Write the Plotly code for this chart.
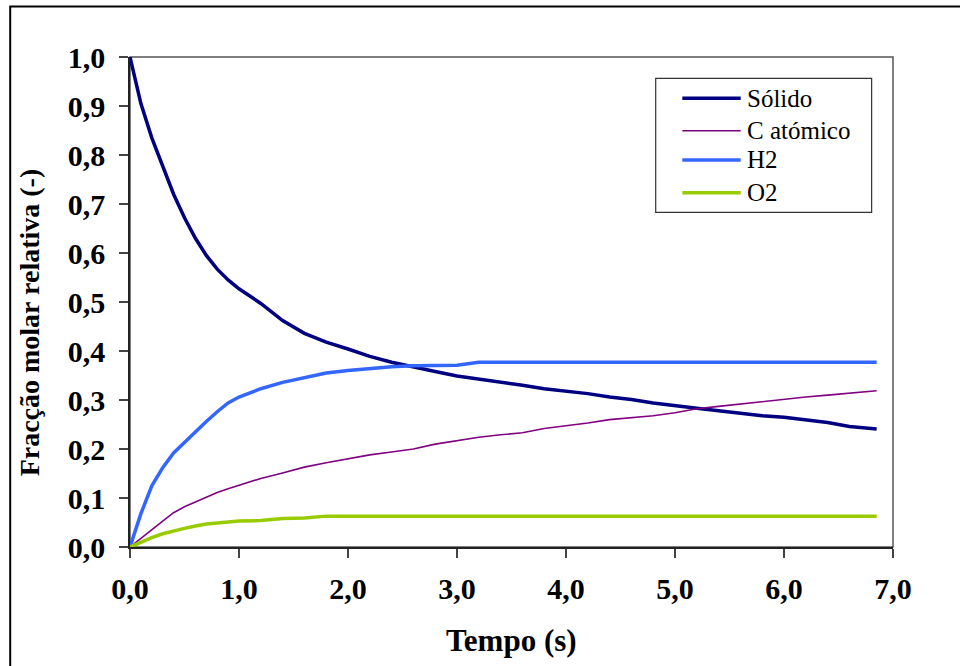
import plotly.graph_objects as go

# ---- data ----
tempo = [0.0, 0.1, 0.2, 0.3, 0.4, 0.5, 0.6, 0.7, 0.8, 0.9, 1.0, 1.2, 1.4, 1.6, 1.8,
         2.0, 2.2, 2.4, 2.6, 2.8, 3.0, 3.2, 3.4, 3.6, 3.8, 4.0, 4.2, 4.4, 4.6, 4.8,
         5.0, 5.2, 5.4, 5.6, 5.8, 6.0, 6.2, 6.4, 6.6, 6.85]

solido = [1.000, 0.905, 0.835, 0.775, 0.720, 0.672, 0.630, 0.595, 0.567, 0.545,
          0.527, 0.497, 0.462, 0.436, 0.418, 0.404, 0.389, 0.377, 0.367, 0.358,
          0.349, 0.343, 0.336, 0.330, 0.323, 0.318, 0.313, 0.306, 0.301, 0.294,
          0.288, 0.283, 0.278, 0.273, 0.268, 0.265, 0.260, 0.254, 0.246, 0.241]

c_atomico = [0.000, 0.018, 0.036, 0.053, 0.070, 0.082, 0.092, 0.102, 0.111, 0.119,
             0.126, 0.140, 0.151, 0.163, 0.172, 0.180, 0.188, 0.194, 0.200, 0.210,
             0.217, 0.224, 0.229, 0.233, 0.242, 0.247, 0.253, 0.260, 0.264, 0.268,
             0.274, 0.282, 0.287, 0.292, 0.297, 0.301, 0.306, 0.310, 0.314, 0.319]

h2 = [0.000, 0.068, 0.125, 0.162, 0.192, 0.214, 0.236, 0.256, 0.276, 0.294,
      0.306, 0.323, 0.336, 0.346, 0.355, 0.360, 0.364, 0.368, 0.370, 0.371,
      0.371, 0.377, 0.377, 0.377, 0.377, 0.377, 0.377, 0.377, 0.377, 0.377,
      0.377, 0.377, 0.377, 0.377, 0.377, 0.377, 0.377, 0.377, 0.377, 0.377]

o2 = [0.000, 0.010, 0.019, 0.027, 0.033, 0.038, 0.043, 0.047, 0.049, 0.051,
      0.053, 0.054, 0.058, 0.059, 0.063, 0.063, 0.063, 0.063, 0.063, 0.063,
      0.063, 0.063, 0.063, 0.063, 0.063, 0.063, 0.063, 0.063, 0.063, 0.063,
      0.063, 0.063, 0.063, 0.063, 0.063, 0.063, 0.063, 0.063, 0.063, 0.063]

series_names = ["Sólido", "C atómico", "H2", "O2"]
series_values = [solido, c_atomico, h2, o2]
series_colors = ["#000080", "#800080", "#3366FF", "#99CC00"]
series_widths = [3.5, 1.6, 3.5, 3.5]

x_title = "Tempo (s)"
y_title = "Fracção molar relativa (-)"

SERIF = "Liberation Serif, Times New Roman, serif"

fig = go.Figure()
for name, vals, col, w in zip(series_names, series_values, series_colors, series_widths):
    fig.add_trace(go.Scatter(x=tempo, y=vals, mode="lines", name=name,
                             line=dict(color=col, width=w), showlegend=False))

axis_common = dict(showgrid=False, zeroline=False, showline=True, automargin=False,
                   linecolor="#222222", linewidth=1.5,
                   ticks="outside", ticklen=9, tickwidth=1.5, tickcolor="#444444",
                   tickfont=dict(family=SERIF, size=30, color="black", weight="bold"))

shapes = [
    # plot-area border (top/right)
    dict(type="rect", xref="paper", yref="paper", x0=0, y0=0, x1=1, y1=1,
         line=dict(color="#555555", width=1.5), layer="below"),
    # outer chart border
    dict(type="rect", xref="paper", yref="paper", x0=-0.157, y0=-0.26,
         x1=1.11, y1=1.103, line=dict(color="black", width=2)),
    # legend box
    dict(type="rect", xref="paper", yref="paper", x0=0.689, y0=0.683,
         x1=0.972, y1=0.9565, fillcolor="white",
         line=dict(color="#333333", width=1.2)),
]

annotations = [
    dict(text="<b>" + x_title + "</b>", xref="paper", yref="paper",
         x=0.5, y=-0.19, xanchor="center", yanchor="middle", showarrow=False,
         font=dict(family=SERIF, size=31, color="black")),
    dict(text="<b>" + y_title + "</b>", xref="paper", yref="paper",
         x=-0.132, y=0.459, xanchor="center", yanchor="middle", showarrow=False,
         textangle=-90, font=dict(family=SERIF, size=28, color="black")),
]

# legend entries (manual, to match the reference box)
legend_rows = [0.9157, 0.8496, 0.7898, 0.7231]
for name, col, w, yy in zip(series_names, series_colors, series_widths, legend_rows):
    shapes.append(dict(type="line", xref="paper", yref="paper",
                       x0=0.7239, x1=0.8004, y0=yy, y1=yy,
                       line=dict(color=col, width=w)))
    annotations.append(dict(text=name, xref="paper", yref="paper",
                            x=0.806, y=yy, xanchor="left", yanchor="middle",
                            showarrow=False,
                            font=dict(family=SERIF, size=25, color="black")))

fig.update_layout(
    template="none",
    width=960, height=666,
    margin=dict(l=130, r=67, t=57, b=119, autoexpand=False),
    paper_bgcolor="white", plot_bgcolor="white",
    separators=", ",
    showlegend=False,
    xaxis=dict(range=[0, 7], dtick=1, tick0=0, tickformat=".1f",
               ticklabelstandoff=5, **axis_common),
    yaxis=dict(range=[0, 1], dtick=0.1, tick0=0, tickformat=".1f",
               ticklabelstandoff=8, **axis_common),
    annotations=annotations,
    shapes=shapes,
)

fig.write_html("out.html", config={"displayModeBar": False},
               post_script="document.body.style.margin='0';")
